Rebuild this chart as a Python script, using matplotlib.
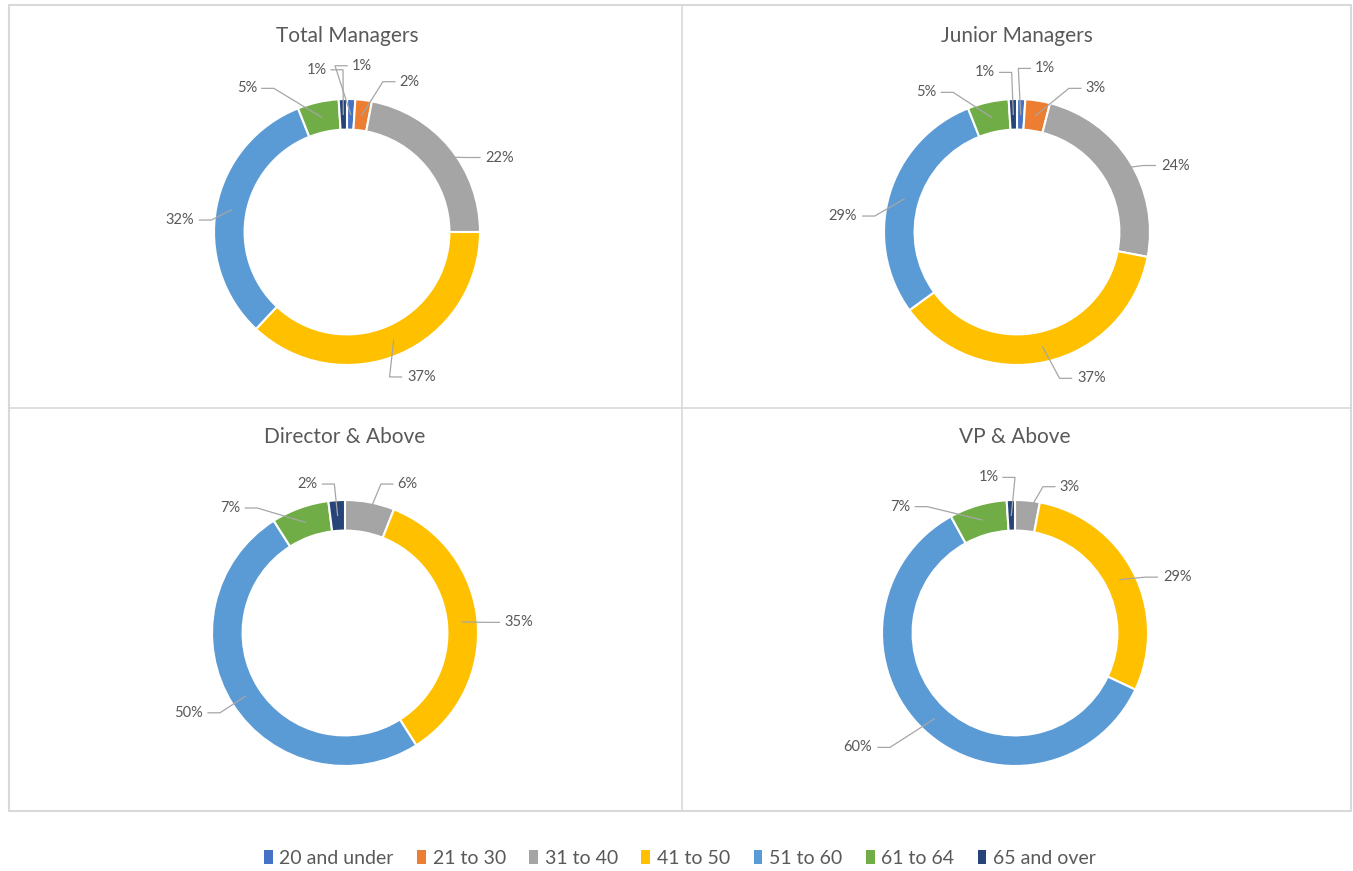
import numpy as np
import matplotlib.pyplot as plt
from matplotlib.patches import Patch, Rectangle

plt.rcParams['font.family'] = ['Lato', 'DejaVu Sans']

# --- datos ---
age_groups = ['20 and under', '21 to 30', '31 to 40', '41 to 50', '51 to 60', '61 to 64', '65 and over']
colors = ['#4472C4', '#ED7D31', '#A5A5A5', '#FFC000', '#5B9BD5', '#70AD47', '#264478']

titles = ['Total Managers', 'Junior Managers', 'Director & Above', 'VP & Above']
total_managers = [1, 2, 22, 37, 32, 5, 1]
junior_managers = [1, 3, 24, 37, 29, 5, 1]
director_above = [0, 0, 6, 35, 50, 7, 2]
vp_above = [0, 0, 3, 29, 60, 7, 1]
series = [total_managers, junior_managers, director_above, vp_above]

# posicion de etiquetas (centro del texto, en unidades de radio), estilo "best fit" de Excel
label_pos = [
    [(0.11, 1.25), (0.47, 1.13), (1.15, 0.56), (0.56, -1.09), (-1.26, 0.09), (-0.75, 1.08), (-0.23, 1.22)],
    [(0.21, 1.23), (0.59, 1.08), (1.19, 0.50), (0.56, -1.10), (-1.31, 0.12), (-0.68, 1.05), (-0.24, 1.20)],
    [None, None, (0.47, 1.12), (1.31, 0.08), (-1.18, -0.60), (-0.86, 0.94), (-0.28, 1.12)],
    [None, None, (0.41, 1.10), (1.22, 0.42), (-1.18, -0.86), (-0.86, 0.95), (-0.20, 1.17)],
]

# centros de las donas en pixeles (x, y desde arriba)
centers = [(347, 232), (1017, 232), (345, 633), (1015, 633)]
title_y = [36, 36, 437, 437]

W, H = 1353, 871
R = 133
RING = 0.23
TXT = '#595959'

fig = plt.figure(figsize=(W / 100, H / 100), dpi=100)

# marcos de los paneles
grid = '#D9D9D9'
fig.add_artist(Rectangle((9 / W, 1 - 811 / H), (1351 - 9) / W, (811 - 5) / H,
                         transform=fig.transFigure, fill=False, edgecolor=grid, lw=1.5))
fig.add_artist(plt.Line2D([682 / W, 682 / W], [1 - 5 / H, 1 - 811 / H], color=grid, lw=1.2))
fig.add_artist(plt.Line2D([9 / W, 1351 / W], [1 - 408 / H, 1 - 408 / H], color=grid, lw=1.2))

for i, vals in enumerate(series):
    cx, cy = centers[i]
    half = 1.5 * R
    ax = fig.add_axes([(cx - half) / W, 1 - (cy + half) / H, 2 * half / W, 2 * half / H])

    idx = [k for k, v in enumerate(vals) if v > 0]
    wedges, _ = ax.pie([vals[k] for k in idx], colors=[colors[k] for k in idx],
                       startangle=90, counterclock=False, radius=1.0,
                       wedgeprops=dict(width=RING, edgecolor='white', linewidth=1.5))
    ax.set_xlim(-1.5, 1.5)
    ax.set_ylim(-1.5, 1.5)
    ax.set_aspect('equal')
    ax.axis('off')

    for w, k in zip(wedges, idx):
        lx, ly = label_pos[i][k]
        txt = f'{vals[k]}%'
        hw = 0.03 + 0.04 * len(txt)
        ang = np.deg2rad((w.theta1 + w.theta2) / 2)
        rm = 1 - RING / 2
        px, py = rm * np.cos(ang), rm * np.sin(ang)
        side = 1 if lx > px else -1
        ex = lx - side * hw
        bx = ex - side * 0.09
        ax.plot([px, bx, ex], [py, ly, ly], color='#A6A6A6', lw=0.9, zorder=3)
        ax.text(lx, ly, txt, ha='center', va='center', fontsize=10.5, color=TXT)

    fig.text(cx / W, 1 - title_y[i] / H, titles[i], ha='center', va='center', fontsize=15, color=TXT)

handles = [Patch(facecolor=c, edgecolor='none') for c in colors]
fig.legend(handles, age_groups, loc='center', bbox_to_anchor=(680 / W, 1 - 858 / H), ncol=7,
           frameon=False, fontsize=14, handlelength=0.45, handleheight=0.7, handletextpad=0.35,
           columnspacing=1.2, labelcolor=TXT)

fig.savefig('out.png', dpi=100, facecolor='white')
